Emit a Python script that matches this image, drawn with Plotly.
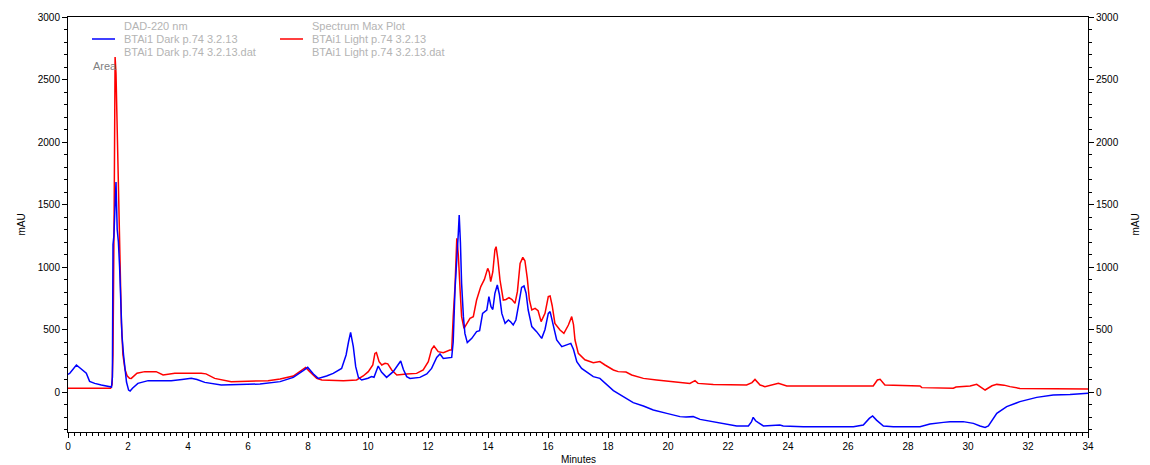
import plotly.graph_objects as go

# ---- data (minutes, mAU) ----
dark_t = [0.0, 0.06, 0.28, 0.5, 0.61, 0.72, 0.89, 1.11, 1.33, 1.45, 1.48, 1.5, 1.53, 1.58, 1.6, 1.64,
          1.68, 1.72, 1.76, 1.8, 1.85, 1.9, 1.95, 2.02, 2.07, 2.15, 2.33, 2.67, 3.44, 3.8, 4.11, 4.3,
          4.56, 5.11, 5.5, 6.4, 7.07, 7.51, 7.84, 7.99, 8.18, 8.34, 8.62, 8.84, 9.12, 9.27, 9.35, 9.42,
          9.51, 9.59, 9.68, 9.79, 10.0, 10.12, 10.2, 10.34, 10.45, 10.62, 10.84, 11.01, 11.09, 11.18,
          11.29, 11.4, 11.73, 11.96, 12.12, 12.29, 12.4, 12.51, 12.79, 12.84, 12.9, 13.01, 13.04, 13.08,
          13.12, 13.18, 13.23, 13.31, 13.46, 13.62, 13.72, 13.82, 13.96, 14.03, 14.1, 14.16, 14.23, 14.31,
          14.38, 14.46, 14.57, 14.68, 14.76, 14.84, 14.93, 15.01, 15.12, 15.2, 15.27, 15.34, 15.46, 15.62,
          15.79, 15.9, 16.01, 16.07, 16.17, 16.29, 16.46, 16.62, 16.76, 16.85, 16.96, 17.12, 17.29, 17.51,
          17.73, 17.96, 18.18, 18.51, 18.84, 19.18, 19.51, 19.96, 20.4, 20.6, 20.84, 21.07, 21.73, 22.29,
          22.68, 22.78, 22.84, 22.92, 23.01, 23.18, 23.73, 23.84, 24.51, 26.18, 26.51, 26.71, 26.82, 26.95,
          27.18, 27.51, 28.4, 28.73, 29.18, 29.4, 29.84, 30.18, 30.4, 30.57, 30.68, 30.96, 31.29, 31.73,
          32.29, 32.84, 33.4, 33.73, 34.0]
dark_v = [140, 150, 216, 176, 150, 85, 69, 56, 43, 40, 120, 1180, 1250, 1650, 1680, 1300,
          1200, 1000, 700, 450, 300, 180, 80, 15, 8, 30, 69, 91, 91, 100, 109, 100,
          77, 56, 60, 64, 83, 117, 171, 197, 144, 109, 128, 149, 189, 296, 400, 477,
          363, 203, 117, 96, 110, 123, 118, 208, 160, 117, 163, 216, 248, 180,
          123, 109, 117, 144, 189, 277, 304, 269, 277, 400, 816, 1269, 1416, 1200,
          869, 603, 469, 395, 429, 483, 490, 629, 656, 763, 683, 660, 789, 856,
          780, 629, 549, 576, 560, 536, 576, 683, 837, 848, 790, 656, 523, 483,
          429, 500, 629, 643, 540, 416, 363, 376, 389, 340, 243, 189, 163, 123,
          109, 56, 11, -37, -85, -112, -144, -171, -197, -200, -197, -219, -245, -272,
          -272, -240, -203, -230, -245, -272, -264, -272, -277, -277, -264, -211, -192, -225,
          -272, -277, -277, -256, -243, -237, -237, -251, -272, -283, -272, -171, -117, -77,
          -43, -24, -19, -11, -10]

light_t = [0.0, 1.42, 1.47, 1.5, 1.54, 1.57, 1.6, 1.63, 1.66, 1.7, 1.74, 1.78, 1.83, 1.9, 1.97, 2.05,
           2.11, 2.3, 2.56, 2.94, 3.17, 3.56, 4.44, 4.6, 4.89, 5.22, 5.44, 6.67, 7.07, 7.51, 7.84, 7.92,
           8.05, 8.29, 8.46, 9.18, 9.62, 9.84, 10.01, 10.16, 10.23, 10.28, 10.37, 10.46, 10.57, 10.66,
           10.79, 10.96, 11.29, 11.62, 11.84, 12.01, 12.12, 12.2, 12.34, 12.51, 12.73, 12.79, 12.84, 12.9,
           12.96, 13.01, 13.07, 13.12, 13.2, 13.29, 13.4, 13.51, 13.62, 13.76, 13.88, 13.99, 14.04, 14.09,
           14.16, 14.23, 14.27, 14.33, 14.4, 14.51, 14.6, 14.7, 14.8, 14.9, 14.98, 15.07, 15.16, 15.23,
           15.31, 15.38, 15.46, 15.57, 15.67, 15.77, 15.9, 16.01, 16.07, 16.14, 16.23, 16.4, 16.53, 16.68,
           16.79, 16.85, 16.9, 17.01, 17.23, 17.51, 17.73, 17.9, 18.18, 18.34, 18.6, 18.79, 19.18, 19.62,
           20.07, 20.73, 20.9, 21.0, 21.51, 22.62, 22.8, 22.9, 23.07, 23.23, 23.68, 23.96, 26.84, 26.98,
           27.07, 27.23, 28.4, 28.46, 29.51, 29.6, 30.07, 30.29, 30.57, 30.8, 30.96, 31.2, 31.4, 31.73, 34.0]
light_v = [30, 30, 60, 300, 1500, 2680, 2550, 2200, 1750, 1300, 900, 550, 300, 180, 130, 110,
           109, 150, 163, 163, 136, 150, 150, 145, 109, 96, 83, 91, 104, 128, 189, 197,
           165, 109, 96, 91, 96, 128, 163, 216, 309, 315, 243, 216, 229, 225,
           176, 136, 144, 149, 176, 243, 341, 368, 323, 315, 336, 336, 600, 843,
           1229, 1100, 816, 603, 509, 549, 589, 603, 736, 843, 901, 989, 960, 883,
           960, 1136, 1163, 1060, 896, 736, 740, 755, 740, 709, 803, 1029, 1077, 1050,
           909, 736, 656, 669, 650, 563, 629, 763, 768, 690, 549, 496, 469, 536,
           603, 540, 416, 309, 258, 235, 243, 216, 176, 163, 160, 136, 109, 96,
           83, 69, 91, 69, 61, 56, 75, 101, 56, 43, 69, 48, 48, 96,
           101, 56, 48, 35, 30, 40, 48, 61, 16, 50, 61, 55, 43, 29, 25]

x_ticks = list(range(0, 35, 2))
y_ticks = [0, 500, 1000, 1500, 2000, 2500, 3000]
y_range = [-320, 3000]

legend_left = ["DAD-220 nm", "BTAi1 Dark p.74 3.2.13", "BTAi1 Dark p.74 3.2.13.dat"]
legend_right = ["Spectrum Max Plot", "BTAi1 Light p.74 3.2.13", "BTAi1 Light p.74 3.2.13.dat"]

FONT = "Liberation Sans, Arial, sans-serif"

fig = go.Figure()
fig.add_trace(go.Scatter(x=light_t, y=light_v, mode="lines", line=dict(color="#ff0000", width=1.5),
                         name=legend_right[1], showlegend=False))
fig.add_trace(go.Scatter(x=dark_t, y=dark_v, mode="lines", line=dict(color="#0000ff", width=1.5),
                         name=legend_left[1], showlegend=False))
# anchor trace for the right-hand mAU axis
fig.add_trace(go.Scatter(x=[None], y=[None], yaxis="y2", showlegend=False, hoverinfo="skip"))

# page offset (body margin) compensation
OFF = 8
W, H = 1150 - OFF, 465 - OFF
L, R, T, B = 68 - OFF, 62, 17 - OFF, 33
pw, ph = W - L - R, H - T - B

def px(x):  # page pixel -> paper x
    return (x - OFF - L) / pw

def py(y):  # page pixel -> paper y
    return (H - B - (y - OFF)) / ph

axis_common = dict(showgrid=False, zeroline=False, showline=True, linecolor="black", linewidth=1,
                   ticks="outside", ticklen=5, tickcolor="black",
                   tickfont=dict(family=FONT, size=10, color="black"))

fig.update_layout(
    width=W, height=H, margin=dict(l=L, r=R, t=T, b=B, autoexpand=False),
    paper_bgcolor="white", plot_bgcolor="white", showlegend=False,
    xaxis=dict(range=[0, 34], tickvals=x_ticks, mirror=True,
               minor=dict(dtick=0.2, tick0=0, ticklen=3, ticks="outside", tickcolor="black"),
               **axis_common),
    yaxis=dict(range=y_range, tickvals=y_ticks,
               minor=dict(dtick=100, tick0=0, ticklen=3, ticks="outside", tickcolor="black"),
               **axis_common),
    yaxis2=dict(range=y_range, tickvals=y_ticks, overlaying="y", side="right", anchor="x",
                minor=dict(dtick=100, tick0=0, ticklen=3, ticks="outside", tickcolor="black"),
                **axis_common),
)

ann = []
gray = "#b4b4b4"
for i, txt in enumerate(legend_left):
    ann.append(dict(x=px(122), y=py([26, 39, 51.5][i]), xref="paper", yref="paper", text=txt,
                    showarrow=False, xanchor="left", yanchor="middle",
                    font=dict(family=FONT, size=11, color=gray)))
for i, txt in enumerate(legend_right):
    ann.append(dict(x=px(310), y=py([26, 39, 51.5][i]), xref="paper", yref="paper", text=txt,
                    showarrow=False, xanchor="left", yanchor="middle",
                    font=dict(family=FONT, size=11, color=gray)))
ann.append(dict(x=px(91), y=py(66), xref="paper", yref="paper", text="Area", showarrow=False,
                xanchor="left", yanchor="middle", font=dict(family=FONT, size=11, color="#808080")))
ann.append(dict(x=px(14), y=py(225), xref="paper", yref="paper", text="mAU", showarrow=False,
                textangle=-90, font=dict(family=FONT, size=10, color="black")))
ann.append(dict(x=px(1143), y=py(225), xref="paper", yref="paper", text="mAU", showarrow=False,
                textangle=-90, font=dict(family=FONT, size=10, color="black")))
ann.append(dict(x=px(578), y=py(459), xref="paper", yref="paper", text="Minutes", showarrow=False,
                yanchor="middle", font=dict(family=FONT, size=10, color="black")))
fig.update_layout(annotations=ann)

fig.add_shape(type="line", xref="paper", yref="paper", x0=px(92), x1=px(115), y0=py(39), y1=py(39),
              line=dict(color="#0000ff", width=1.5))
fig.add_shape(type="line", xref="paper", yref="paper", x0=px(280), x1=px(303), y0=py(39), y1=py(39),
              line=dict(color="#ff0000", width=1.5))

fig.write_html("out.html")
